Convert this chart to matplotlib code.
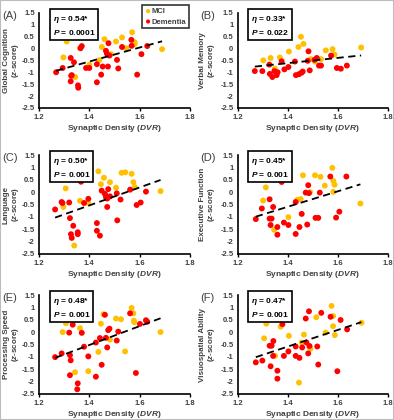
import matplotlib
matplotlib.use("Agg")
import matplotlib.pyplot as plt
import numpy as np
from matplotlib.patches import Rectangle

plt.rcParams['font.family'] = ['Liberation Sans', 'DejaVu Sans']
plt.rcParams['mathtext.fontset'] = 'custom'
plt.rcParams['mathtext.it'] = 'Liberation Sans:italic:bold'
plt.rcParams['mathtext.rm'] = 'Liberation Sans:bold'
plt.rcParams['mathtext.bf'] = 'Liberation Sans:bold'

# ---------------- data ----------------
a_mci_x = [1.31, 1.297, 1.363, 1.40, 1.344, 1.44, 1.45, 1.46, 1.486, 1.506, 1.53, 1.547, 1.57, 1.58, 1.58, 1.689]
a_mci_y = [0.29, -0.375, 0.01, -0.68, -1.2, -0.49, 0.06, 0.39, -0.24, 0.29, 0.46, 0.01, 0.68, 0.26, 0.18, -0.03]
a_dem_x = [1.268, 1.294, 1.326, 1.339, 1.328, 1.33, 1.326, 1.355, 1.356, 1.37, 1.365, 1.387, 1.40, 1.43, 1.43,
           1.447, 1.453, 1.466, 1.47, 1.474, 1.476, 1.48, 1.51, 1.515, 1.53, 1.567, 1.568, 1.59, 1.607, 1.63]
a_dem_y = [-1.0, -0.82, -0.40, -0.58, -1.15, -1.12, -1.38, -1.55, -1.65, 0.10, 0.01, -0.82, -0.82, -0.66, -1.42,
           -1.10, -0.76, -0.10, -0.22, -0.76, 0.22, -0.30, -0.48, -0.84, 0.06, 0.36, 0.11, -1.10, -0.24, 0.10]

b_mci_x = [1.312, 1.303, 1.332, 1.349, 1.369, 1.405, 1.443, 1.453, 1.463, 1.492, 1.509, 1.533, 1.552, 1.579, 1.587, 1.693]
b_mci_y = [0.53, -0.50, -0.40, -0.85, -0.38, -0.13, 0.06, 0.49, 0.19, -0.45, -0.55, -0.45, -0.08, -0.03, -0.26, 0.04]
b_dem_x = [1.269, 1.299, 1.327, 1.329, 1.339, 1.347, 1.356, 1.36, 1.376, 1.387, 1.403, 1.429, 1.433, 1.445,
           1.455, 1.46, 1.48, 1.483, 1.488, 1.507, 1.516, 1.525, 1.533, 1.573, 1.596, 1.612, 1.636]
b_dem_y = [-0.95, -0.95, -0.68, -1.07, -1.20, -0.95, -1.12, -1.0, -0.54, -0.88, -0.78, -0.55, -1.12, -1.08,
           -1.02, -0.97, -0.52, -0.12, -0.92, -0.48, -0.40, -0.72, -0.72, -0.30, -0.82, -0.85, -0.72]

c_mci_x = [1.306, 1.297, 1.363, 1.34, 1.396, 1.436, 1.446, 1.458, 1.482, 1.506, 1.528, 1.543, 1.568, 1.575, 1.581, 1.683]
c_mci_y = [0.15, -0.60, -0.35, -2.16, -0.44, 0.84, 0.32, 0.58, 0.40, 0.18, 0.78, 0.80, 0.74, 0.40, 0.20, 0.04]
c_dem_x = [1.264, 1.29, 1.293, 1.32, 1.323, 1.327, 1.33, 1.336, 1.354, 1.354, 1.367, 1.379, 1.396, 1.43, 1.43,
           1.442, 1.449, 1.462, 1.466, 1.471, 1.475, 1.471, 1.482, 1.509, 1.511, 1.524, 1.562, 1.588, 1.604, 1.625]
c_dem_y = [-0.70, -0.40, -0.44, -0.42, -1.05, -1.70, -1.85, -1.36, -1.62, -1.70, 0.42, -0.44, -0.27, -1.25, -1.56,
           -1.76, 0.06, -0.07, -0.20, -0.26, 0.12, -0.60, -0.17, -0.05, -1.14, -0.30, 0.10, -0.52, -0.42, 0.02]

d_mci_x = [1.313, 1.302, 1.368, 1.346, 1.403, 1.438, 1.452, 1.461, 1.489, 1.509, 1.531, 1.548, 1.578, 1.582, 1.587, 1.582, 1.69]
d_mci_y = [0.19, -0.34, 0.50, -1.52, -1.01, -0.31, -0.28, 0.68, 0.0, 0.68, 0.62, 0.26, 0.98, 0.45, 0.30, 0.01, -0.46]
d_dem_x = [1.273, 1.297, 1.328, 1.328, 1.336, 1.332, 1.342, 1.359, 1.359, 1.376, 1.385, 1.403, 1.432, 1.432,
           1.447, 1.456, 1.472, 1.478, 1.482, 1.485, 1.511, 1.522, 1.528, 1.570, 1.593, 1.606, 1.634]
d_dem_y = [-1.09, -0.66, -0.29, -1.07, -1.07, -1.33, -0.60, -1.41, -1.72, 0.41, -1.23, -1.33, -0.40, -1.69,
           -1.41, -0.88, -0.02, -1.31, 0.28, -0.04, -1.04, -1.04, -0.02, 0.63, -1.03, -0.79, 0.63]

e_mci_x = [1.307, 1.294, 1.363, 1.343, 1.396, 1.436, 1.446, 1.456, 1.482, 1.506, 1.526, 1.542, 1.568, 1.575, 1.577, 1.579, 1.683]
e_mci_y = [0.36, 0.0, 0.16, -1.62, -1.58, -0.80, 0.34, 0.72, -0.30, 0.55, 0.52, -0.78, 0.98, 0.76, 0.46, 0.40, 0.0]
e_dem_x = [1.264, 1.29, 1.32, 1.323, 1.326, 1.323, 1.334, 1.354, 1.352, 1.37, 1.379, 1.396, 1.426, 1.426,
           1.442, 1.449, 1.462, 1.466, 1.471, 1.475, 1.48, 1.509, 1.515, 1.562, 1.585, 1.601, 1.625, 1.63]
e_dem_y = [-1.01, -0.86, -0.02, -0.93, -1.14, -1.74, 0.30, -2.07, -2.31, -0.03, -0.59, -0.98, -0.42, -1.80,
           -0.24, -1.32, 0.70, -0.23, -0.62, 0.08, 0.14, -0.34, 0.02, 0.76, -1.65, 0.33, 0.48, 0.42]

f_mci_x = [1.315, 1.306, 1.372, 1.35, 1.405, 1.445, 1.456, 1.465, 1.487, 1.491, 1.514, 1.551, 1.575, 1.581, 1.581, 1.588, 1.694]
f_mci_y = [0.34, -0.25, 0.22, -0.96, -0.15, -2.04, -0.42, -0.10, -0.60, -0.67, 0.60, -0.02, 1.06, 0.65, 0.24, -0.12, 0.38]
f_dem_x = [1.273, 1.299, 1.328, 1.336, 1.332, 1.343, 1.342, 1.359, 1.359, 1.379, 1.385, 1.403, 1.432, 1.432,
           1.447, 1.458, 1.472, 1.475, 1.485, 1.482, 1.487, 1.518, 1.522, 1.534, 1.571, 1.598, 1.611, 1.637]
f_dem_y = [-1.22, -1.15, -0.55, -0.55, -1.38, -0.36, -0.96, -1.56, -1.88, 0.32, -0.96, -0.78, -0.58, -0.96,
           -1.04, -0.62, 0.55, -0.42, 0.84, -0.86, -0.56, -0.58, -1.31, 0.78, 0.62, -1.58, 0.49, 0.11]

panel_letters = ['(A)', '(B)', '(C)', '(D)', '(E)', '(F)']
ylabels = ['Global Cognition', 'Verbal Memory', 'Language', 'Executive Function',
           'Processing Speed', 'Visuospatial Ability']
r_texts = ['0.54*', '0.33*', '0.50*', '0.45*', '0.48*', '0.47*']
p_texts = ['0.0001', '0.022', '0.001', '0.001', '0.001', '0.001']
series_names = ['MCI', 'Dementia']
x_ticks = [1.2, 1.4, 1.6, 1.8]
y_ticks = [-2.5, -2, -1.5, -1, -0.5, 0, 0.5, 1, 1.5]
xlabel_text = 'Synaptic Density ($DVR$)'

panels = [
    (a_mci_x, a_mci_y, a_dem_x, a_dem_y),
    (b_mci_x, b_mci_y, b_dem_x, b_dem_y),
    (c_mci_x, c_mci_y, c_dem_x, c_dem_y),
    (d_mci_x, d_mci_y, d_dem_x, d_dem_y),
    (e_mci_x, e_mci_y, e_dem_x, e_dem_y),
    (f_mci_x, f_mci_y, f_dem_x, f_dem_y),
]

# ---------------- layout ----------------
W, H = 394, 420
fig = plt.figure(figsize=(W / 100, H / 100), dpi=100)
fig.patches.append(Rectangle((0, 0), 1, 1, transform=fig.transFigure, fill=False,
                             edgecolor='#bdbdbd', linewidth=1.5))

col_lr = [(39, 190), (237.5, 388)]
row_tb = [(12.7, 108), (155, 254), (295, 394)]
ylabel_x_px = [12, 208]

MCI_COL = '#FFC000'
DEM_COL = '#FF0000'
TXT = '#404040'

for i, (mx, my, dx, dy) in enumerate(panels):
    r, c = divmod(i, 2)
    l, rr = col_lr[c]
    t, b = row_tb[r]
    w_px, h_px = rr - l, b - t
    ax = fig.add_axes([l / W, 1 - b / H, w_px / W, h_px / H])
    ax.scatter(mx, my, s=18, color=MCI_COL, edgecolors='none', zorder=3, label=series_names[0])
    ax.scatter(dx, dy, s=18, color=DEM_COL, edgecolors='none', zorder=3, label=series_names[1])
    allx = np.array(list(mx) + list(dx))
    ally = np.array(list(my) + list(dy))
    k, b0 = np.polyfit(allx, ally, 1)
    xs = np.array([allx.min(), allx.max()])
    ax.plot(xs, k * xs + b0, color='black', linestyle=(0, (4, 2.5)), linewidth=1.3, zorder=4)

    ax.set_xlim(1.2, 1.8)
    ax.set_ylim(-2.5, 1.5)
    ax.set_xticks(x_ticks)
    ax.set_xticklabels([f'{v:.1f}' for v in x_ticks])
    ax.set_yticks(y_ticks)
    ax.set_yticklabels([('%g' % v) for v in y_ticks])
    for s in ['top', 'right']:
        ax.spines[s].set_visible(False)
    for s in ['left', 'bottom']:
        ax.spines[s].set_linewidth(1.2)
        ax.spines[s].set_color('black')
    ax.tick_params(axis='both', labelsize=5.5, colors='black', labelcolor=TXT, pad=2)
    ax.tick_params(axis='y', length=0, pad=3)
    ax.tick_params(axis='x', length=2, direction='out', width=1)
    for lab in ax.get_xticklabels() + ax.get_yticklabels():
        lab.set_fontweight('bold')
    ax.set_xlabel(xlabel_text, fontsize=6, fontweight='bold', color=TXT)
    ax.xaxis.set_label_coords(0.5, -15.5 / h_px)
    ax.set_ylabel(ylabels[i] + '\n($z$-score)', fontsize=5.8, fontweight='bold', color=TXT,
                  linespacing=1.1)
    ax.yaxis.set_label_coords((ylabel_x_px[c] - l) / w_px, 0.5)
    ax.yaxis.label.set_va('center')
    ax.patch.set_alpha(0)

    # panel letter
    fig.text((l - 37) / W, 1 - (t - 2) / H, panel_letters[i], fontsize=8, color=TXT,
             ha='left', va='top')

    # stats box
    ax.text(0.09, 0.99, '$\\eta$ = ' + r_texts[i] + '\n$P$ = ' + p_texts[i],
            transform=ax.transAxes, fontsize=6, fontweight='bold', color='black',
            ha='left', va='top', linespacing=1.5,
            bbox=dict(boxstyle='square,pad=0.35', facecolor='white', edgecolor='black', linewidth=1.2),
            zorder=6)

    if i == 0:
        leg = ax.legend(loc='upper right', bbox_to_anchor=(1.02, 1.12), fontsize=5.5, frameon=True,
                        fancybox=False, edgecolor='black', handletextpad=0.1, borderpad=0.35,
                        handlelength=0.8, labelspacing=0.4, markerscale=0.7)
        leg.get_frame().set_linewidth(1.2)
        for txt in leg.get_texts():
            txt.set_fontweight('bold')
            txt.set_color(TXT)

fig.savefig('out.png', dpi=100)
